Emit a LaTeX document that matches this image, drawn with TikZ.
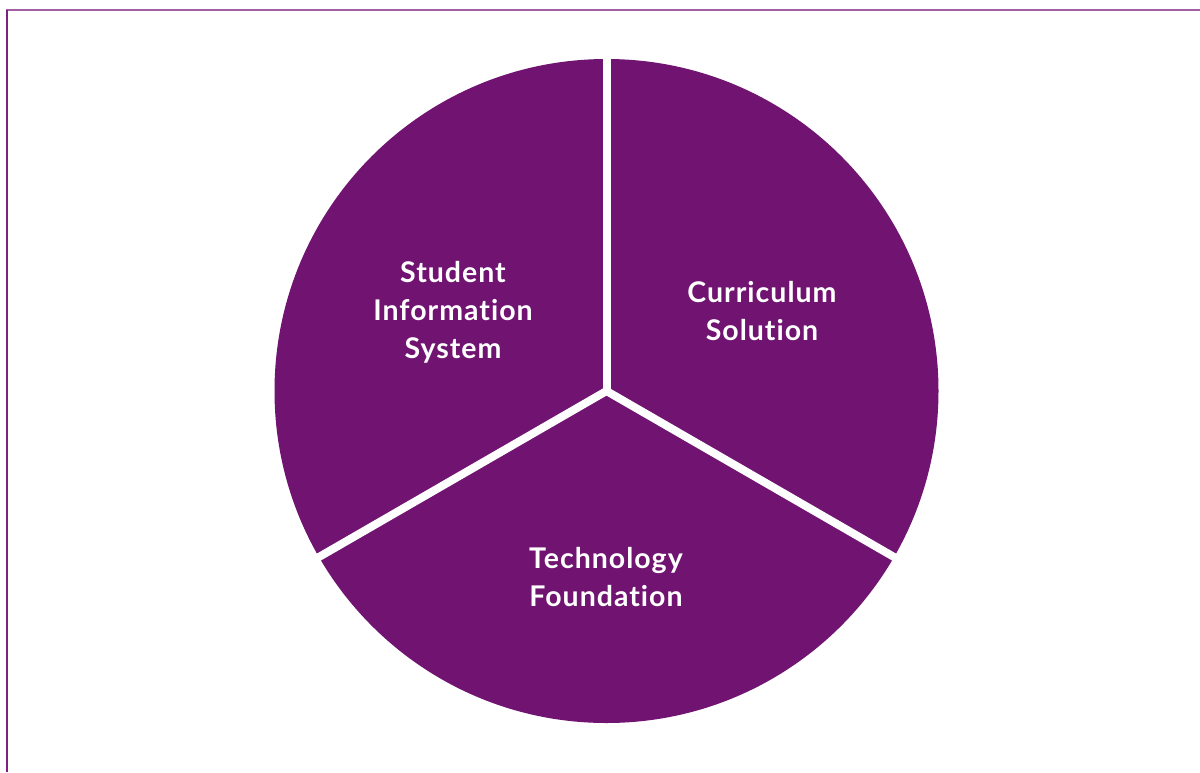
\documentclass[tikz,border=0pt]{standalone}
\usepackage{fontspec}
\setmainfont{Lato}[Ligatures=NoCommon,LetterSpace=3.5]
\definecolor{pie}{HTML}{701371}
\definecolor{frametop}{HTML}{A25EA3}
\definecolor{frameleft}{HTML}{7E1F82}
\begin{document}
\begin{tikzpicture}[x=1pt,y=-1pt,
  label/.style={text=white,font=\bfseries\fontsize{28.5}{38}\selectfont,align=center},
  gap/.style={draw=white,line width=8pt}]
\useasboundingbox (0,0) rectangle (1200,772);
% frame edges
\draw[frametop,line width=2pt] (6,10) -- (1200,10);
\draw[frameleft,line width=2pt] (7,10) -- (7,772);
% pie
\coordinate (c) at (606.5,391);
\fill[pie] (c) circle[radius=332];
\draw[gap] (c) -- ++(0,-345);
\draw[gap] (c) -- ++(-300,173.2);
\draw[gap] (c) -- ++(300,173.2);
% labels
\node[label] (sis) at (453,312) {Student\\Information\\System};
\node[label] (cs) at (762,311) {Curriculum\\Solution};
\node[label] (tf) at (606,577) {Technology\\Foundation};
\end{tikzpicture}
\end{document}
